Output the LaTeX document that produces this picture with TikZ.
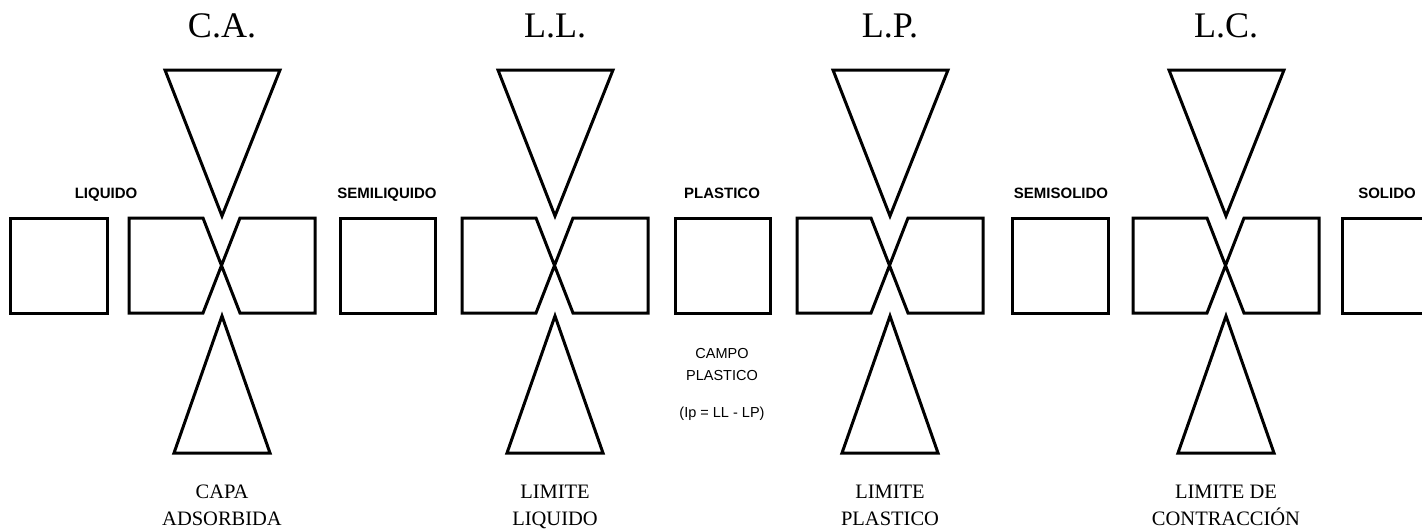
\documentclass[tikz,border=0pt]{standalone}
\usepackage{fontspec}
\setmainfont{Liberation Serif}
\newfontfamily\lblfont{Liberation Sans}
\begin{document}
\begin{tikzpicture}[x=1pt,y=-1pt,
  shp/.style={draw=black, line width=3pt, line join=miter},
  title/.style={font=\fontsize{36}{40}\selectfont, anchor=base, inner sep=0pt},
  phase/.style={font=\lblfont\bfseries\fontsize{15}{17}\selectfont, anchor=base, inner sep=0pt},
  field/.style={font=\lblfont\fontsize{14.5}{17}\selectfont, anchor=base, inner sep=0pt},
  limit/.style={font=\fontsize{20.5}{24}\selectfont, anchor=base, inner sep=0pt},
]
\useasboundingbox (0,0) rectangle (1422,531);

% limit groups: triangles and crossed boxes
\foreach \c/\t/\a/\b/\n in {222/C.A./CAPA/ADSORBIDA/ca, 555/L.L./LIMITE/LIQUIDO/ll, 890/L.P./LIMITE/PLASTICO/lp, 1226/L.C./LIMITE DE/CONTRACCIÓN/lc}{
  \draw[shp] ({\c-57},70) -- ({\c+58},70) -- (\c,216) -- cycle;
  \draw[shp] (\c,316) -- ({\c+48},453) -- ({\c-48},453) -- cycle;
  \draw[shp] ({\c-93},218) -- ({\c-19},218) -- ({\c+18},313) -- ({\c+93},313)
     -- ({\c+93},218) -- ({\c+18},218) -- ({\c-19},313) -- ({\c-93},313) -- cycle;
  \node[title] (t\n) at (\c,37) {\t};
  \node[limit] (a\n) at (\c,498) {\a};
  \node[limit] (b\n) at (\c,525) {\b};
}

% free state boxes
\draw[shp] (10,218) rectangle (107,313);
\draw[shp] (340,218) rectangle (435,313);
\draw[shp] (675,218) rectangle (770,313);
\draw[shp] (1012,218) rectangle (1108,313);
\draw[shp] (1424,218) -- (1342,218) -- (1342,313) -- (1424,313);

% state labels
\node[phase] (liq) at (106,198) {LIQUIDO};
\node[phase] (sliq) at (387,198) {SEMILIQUIDO};
\node[phase] (pla) at (722,198) {PLASTICO};
\node[phase] (ssol) at (1061,198) {SEMISOLIDO};
\node[phase] (sol) at (1387,198) {SOLIDO};

% plastic field
\node[field] (cp1) at (722,358) {CAMPO};
\node[field] (cp2) at (722,380) {PLASTICO};
\node[field] (cp3) at (722,417) {(Ip = LL - LP)};
\end{tikzpicture}
\end{document}
